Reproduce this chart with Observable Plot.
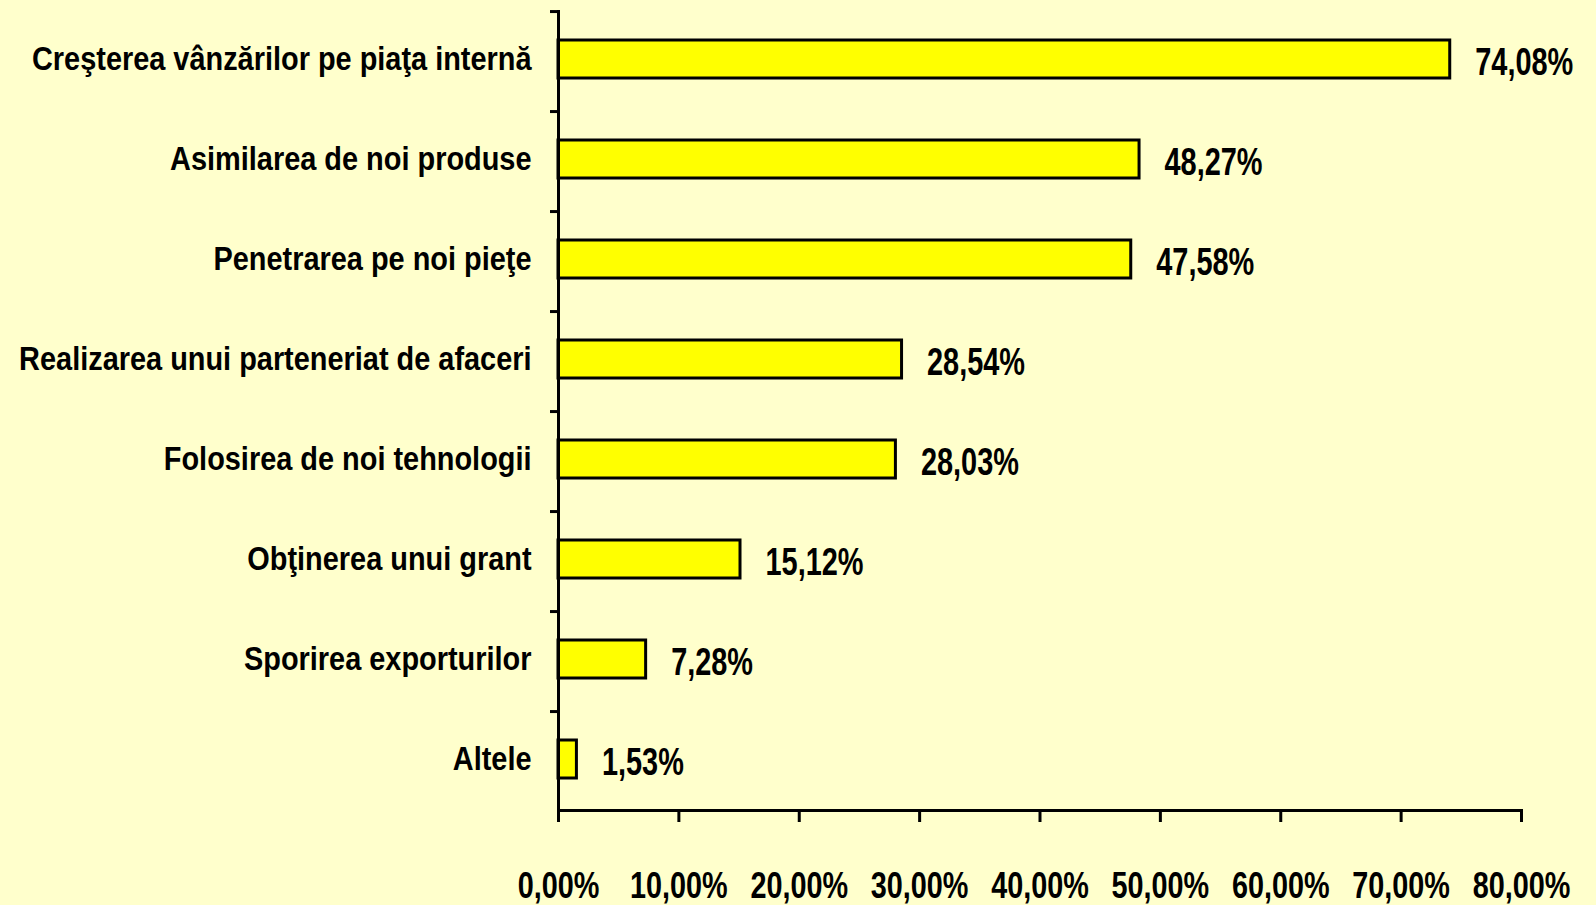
<!DOCTYPE html>
<html>
<head>
<meta charset="utf-8">
<script src="https://cdn.jsdelivr.net/npm/d3@7"></script>
<script src="https://cdn.jsdelivr.net/npm/@observablehq/plot@0.6"></script>
<style>
  html, body { margin: 0; padding: 0; background: #FFFFCC; }
  #chart svg { display: block; font-family: "Liberation Sans", Arial, sans-serif; font-weight: bold; }
</style>
</head>
<body>
<div id="chart"></div>
<script>
const categories = [
  "Creşterea vânzărilor pe piaţa internă",
  "Asimilarea de noi produse",
  "Penetrarea pe noi pieţe",
  "Realizarea unui parteneriat de afaceri",
  "Folosirea de noi tehnologii",
  "Obţinerea unui grant",
  "Sporirea exporturilor",
  "Altele"
];
const values = [74.08, 48.27, 47.58, 28.54, 28.03, 15.12, 7.28, 1.53];
const xTicks = [0, 10, 20, 30, 40, 50, 60, 70, 80];

const data = categories.map((c, i) => ({category: c, value: values[i]}));
const fmt = d => d.toFixed(2).replace(".", ",") + "%";

const W = 1596, H = 905;
const mTop = 11, mBottom = 95, mLeft = 558, mRight = 75;
const step = (H - mTop - mBottom) / categories.length;

const chart = Plot.plot({
  width: W,
  height: H,
  marginTop: mTop,
  marginBottom: mBottom,
  marginLeft: mLeft,
  marginRight: mRight,
  style: {background: "#FFFFCC", color: "black", fontSize: "34px", overflow: "visible"},
  x: {domain: [0, 80]},
  y: {domain: categories, paddingInner: 0.62, paddingOuter: 0.29},
  marks: [
    Plot.barX(data, {x: "value", y: "category", fill: "#FFFF00", stroke: "black", strokeWidth: 3, dy: -2}),
    Plot.text(data, {x: "value", y: "category", text: d => fmt(d.value), textAnchor: "start", dx: 25, dy: 1, fontSize: 38, fontWeight: "bold", fill: "black"}),
    Plot.frame({anchor: "left", strokeWidth: 3}),
    Plot.frame({anchor: "bottom", strokeWidth: 3}),
    Plot.axisY({tickSize: 0, tickPadding: 27, fontSize: 34, fontWeight: "bold", dy: -2, label: null}),
    Plot.axisY({tickSize: 8, text: null, dy: -step / 2, strokeWidth: 3, label: null}),
    Plot.axisX({ticks: xTicks, tickSize: 12, tickPadding: 50, tickFormat: fmt, fontSize: 36, fontWeight: "bold", strokeWidth: 3, label: null})
  ]
});
document.getElementById("chart").appendChild(chart);

// condense the glyphs to mimic a narrow bold face
function condense(selector, ratio) {
  chart.querySelectorAll(selector).forEach(t => {
    const len = t.getComputedTextLength();
    t.setAttribute("textLength", (len * ratio).toFixed(1));
    t.setAttribute("lengthAdjust", "spacingAndGlyphs");
  });
}
condense('g[aria-label="y-axis tick label"] text', 0.85);
condense('g[aria-label="x-axis tick label"] text', 0.8);
condense('g[aria-label="text"] text', 0.76);
</script>
</body>
</html>
